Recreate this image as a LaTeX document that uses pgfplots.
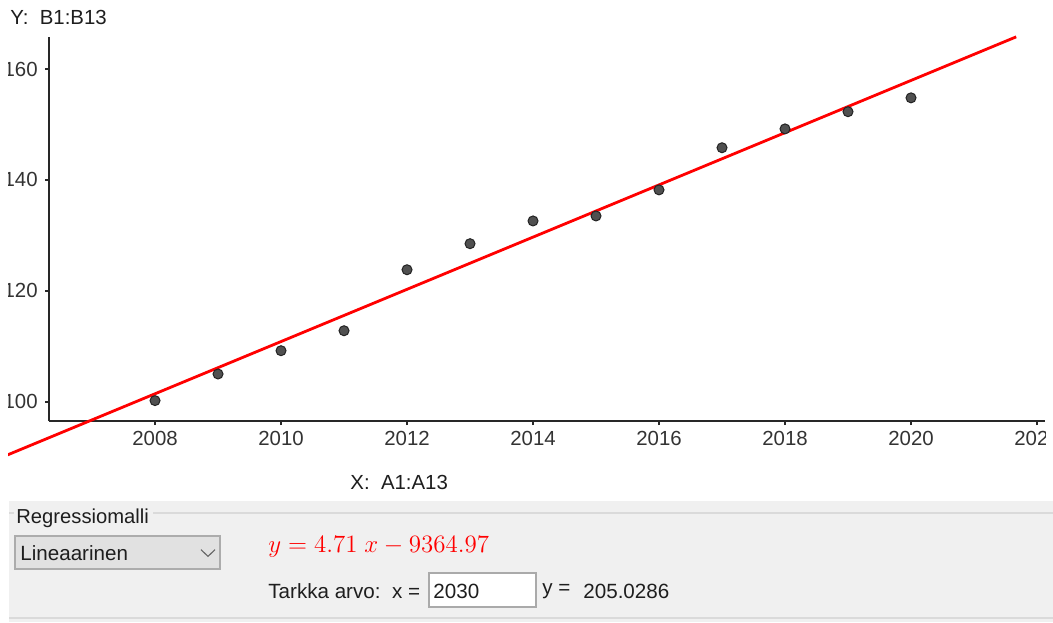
\documentclass[border=0pt]{standalone}
\usepackage[no-math]{fontspec}
\setmainfont{Liberation Sans}
\usepackage{pgfplots}
\pgfplotsset{compat=1.18}
\usepackage{pgfplotstable}
\definecolor{panel}{RGB}{240,240,240}
\definecolor{panelline}{RGB}{218,218,218}
\definecolor{dropfill}{RGB}{225,225,225}
\definecolor{dropborder}{RGB}{172,172,172}
\definecolor{boxborder}{RGB}{170,170,170}
\definecolor{ptfill}{RGB}{80,80,80}
\definecolor{ptdraw}{RGB}{35,35,35}
\definecolor{txt}{RGB}{30,30,30}
\definecolor{axcol}{RGB}{40,40,40}

\pgfplotstableread{
year value
2008 100.2
2009 105.0
2010 109.2
2011 112.8
2012 123.8
2013 128.5
2014 132.6
2015 133.5
2016 138.2
2017 145.8
2018 149.2
2019 152.3
2020 154.8
}\datatable

\begin{document}
\begin{tikzpicture}
\useasboundingbox (0,0) rectangle (526.5pt,-311pt);
\fill[white] (0,0) rectangle (526.5pt,-311pt);
% bottom panel
\fill[panel] (4.5pt,-250.5pt) rectangle (526.5pt,-311pt);
\draw[panelline, line width=0.6pt] (4.5pt,-256.5pt) -- (7pt,-256.5pt);
\draw[panelline, line width=0.6pt] (76.5pt,-256.5pt) -- (526.5pt,-256.5pt);
\draw[panelline, line width=0.6pt] (4.5pt,-309pt) -- (526.5pt,-309pt);
\node[anchor=west, inner sep=0pt, font=\fontsize{10.1}{12}\selectfont, text=txt] at (8pt,-259pt) {Regressiomalli};
% dropdown
\draw[fill=dropfill, draw=dropborder, line width=0.6pt] (7.5pt,-268pt) rectangle (110pt,-284.5pt);
\node[anchor=west, inner sep=0pt, font=\fontsize{10.3}{12}\selectfont, text=txt] at (10pt,-276.5pt) {Lineaarinen};
\draw[black!60, line width=0.55pt] (100.5pt,-274.8pt) -- (104pt,-278.2pt) -- (107.5pt,-274.8pt);
% equation
\node[anchor=west, inner sep=0pt, scale=1.04, font=\fontsize{12}{14}\selectfont, text=red] at (134pt,-273.5pt) {$y = 4.71\ x - 9364.97$};
% exact value row
\node[anchor=west, inner sep=0pt, font=\fontsize{10.3}{12}\selectfont, text=txt] at (134pt,-295.5pt) {Tarkka arvo:\ \ x =};
\draw[fill=white, draw=boxborder, line width=0.6pt] (214.5pt,-286.5pt) rectangle (268pt,-303.5pt);
\node[anchor=west, inner sep=0pt, font=\fontsize{10.3}{12}\selectfont, text=txt] at (216.5pt,-295.5pt) {2030};
\node[anchor=west, inner sep=0pt, font=\fontsize{10.3}{12}\selectfont, text=txt] at (271pt,-295.5pt) {y =};
\node[anchor=west, inner sep=0pt, font=\fontsize{10.3}{12}\selectfont, text=txt] at (291.5pt,-295.5pt) {205.0286};
% axis labels
\node[anchor=west, inner sep=0pt, font=\fontsize{10.2}{12}\selectfont, text=txt] at (5pt,-8.5pt) {Y:\ \ B1:B13};
\node[anchor=west, inner sep=0pt, font=\fontsize{10.2}{12}\selectfont, text=txt] at (175pt,-241pt) {X:\ \ A1:A13};
\begin{scope}
\clip (4pt,-17pt) rectangle (522.5pt,-250pt);
\begin{axis}[
  scale only axis, width=498pt, height=192pt,
  at={(24.5pt,-210.5pt)}, anchor=south west,
  xmin=2006.317, xmax=2022.127, ymin=96.52, ymax=165.77,
  axis x line*=bottom, axis y line*=left,
  axis line style={axcol, line width=0.9pt},
  xtick={2008,2010,2012,2014,2016,2018,2020,2022},
  xticklabels={2008,2010,2012,2014,2016,2018,2020,2022},
  ytick={100,120,140,160},
  yticklabels={100,120,140,160},
  tick align=outside, major tick length=2pt,
  tick style={axcol, line width=0.8pt},
  ticklabel style={font=\fontsize{10.2}{12}\selectfont, text=black!80, inner sep=0pt},
  xticklabel style={anchor=north, yshift=-3pt},
  yticklabel style={anchor=east, xshift=-3.5pt},
  clip=false,
]
\addplot[red, line width=1.4pt] coordinates {(2005.6,90.13) (2021.67,165.8)};
\addplot[only marks, mark=*, mark size=2.5pt, mark options={fill=ptfill, draw=ptdraw, line width=0.5pt}] table[x=year,y=value] {\datatable};
\end{axis}
\end{scope}
\end{tikzpicture}
\end{document}
